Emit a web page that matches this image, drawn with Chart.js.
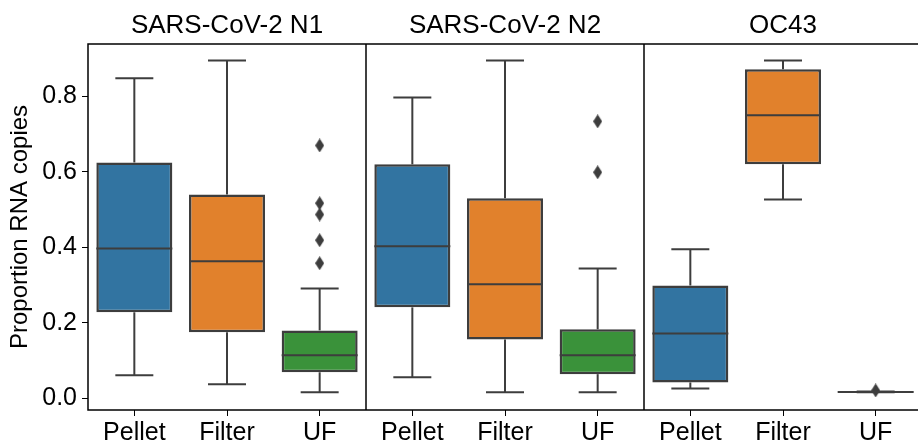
<!DOCTYPE html>
<html>
<head>
<meta charset="utf-8">
<script src="https://cdn.jsdelivr.net/npm/chart.js@4.4.1/dist/chart.umd.min.js"></script>
<style>
  html, body { margin: 0; padding: 0; background: #fff; overflow: hidden; }
  #wrap { width: 928px; height: 444px; }
</style>
</head>
<body>
<div id="wrap"><canvas id="chart"></canvas></div>
<script>
// panels and categories
const panels = ["SARS-CoV-2 N1", "SARS-CoV-2 N2", "OC43"];
const categories = ["Pellet", "Filter", "UF"];
const keys = ["N1 Pellet", "N1 Filter", "N1 UF", "N2 Pellet", "N2 Filter", "N2 UF", "OC43 Pellet", "OC43 Filter", "OC43 UF"];

// box statistics, one entry per key
const whiskerLow  = [0.061, 0.037, 0.016, 0.056, 0.016, 0.016, 0.026, 0.527, 0.016];
const q1          = [0.228, 0.175, 0.069, 0.241, 0.156, 0.064, 0.042, 0.620, 0.016];
const median      = [0.397, 0.363, 0.114, 0.403, 0.302, 0.114, 0.172, 0.750, 0.017];
const q3          = [0.625, 0.540, 0.180, 0.620, 0.530, 0.183, 0.299, 0.872, 0.018];
const whiskerHigh = [0.848, 0.895, 0.291, 0.797, 0.895, 0.344, 0.395, 0.895, 0.018];

// outliers
const outlierKeys   = ["N1 UF", "N1 UF", "N1 UF", "N1 UF", "N1 UF", "N2 UF", "N2 UF", "OC43 UF"];
const outlierValues = [0.670, 0.517, 0.487, 0.419, 0.358, 0.734, 0.599, 0.021];

const yTicks = [0, 0.2, 0.4, 0.6, 0.8];

const palette = ["#3274a1", "#e1812c", "#3a923a"];
const lineColor = "#3d3d3d";
const fontFamily = "'Liberation Sans', Arial, sans-serif";

// thin diamond marker
const diamond = document.createElement("canvas");
diamond.width = 9;
diamond.height = 14;
(function () {
  const c = diamond.getContext("2d");
  c.fillStyle = lineColor;
  c.beginPath();
  c.moveTo(4.5, 0);
  c.lineTo(9, 7);
  c.lineTo(4.5, 14);
  c.lineTo(0, 7);
  c.closePath();
  c.fill();
})();

const boxPlugin = {
  id: "boxParts",
  afterDatasetsDraw(chart) {
    const ctx = chart.ctx;
    const y = chart.scales.y;
    const x = chart.scales.x;
    const area = chart.chartArea;
    const bars = chart.getDatasetMeta(0).data;

    function line(x1, y1, x2, y2) {
      ctx.beginPath();
      ctx.moveTo(x1, y1);
      ctx.lineTo(x2, y2);
      ctx.stroke();
    }

    ctx.save();
    ctx.strokeStyle = lineColor;
    ctx.lineWidth = 2;
    bars.forEach((bar, i) => {
      const cx = bar.x;
      const half = bar.width / 2;
      const yHi = y.getPixelForValue(whiskerHigh[i]);
      const yLo = y.getPixelForValue(whiskerLow[i]);
      const yQ1 = y.getPixelForValue(q1[i]);
      const yQ3 = y.getPixelForValue(q3[i]);
      const yMed = y.getPixelForValue(median[i]);
      line(cx, yQ3, cx, yHi);
      line(cx, yQ1, cx, yLo);
      line(cx - half / 2, yHi, cx + half / 2, yHi);
      line(cx - half / 2, yLo, cx + half / 2, yLo);
      line(cx - half, yMed, cx + half, yMed);
    });
    ctx.restore();

    // frame and panel separators
    ctx.save();
    ctx.strokeStyle = "#000";
    ctx.lineWidth = 1.5;
    ctx.strokeRect(area.left, area.top, area.right - area.left, area.bottom - area.top);
    for (let p = 1; p < panels.length; p++) {
      const sx = (x.getPixelForValue(p * 3 - 1) + x.getPixelForValue(p * 3)) / 2;
      line(sx, area.top, sx, area.bottom);
    }

    // panel titles
    ctx.fillStyle = "#000";
    ctx.font = "26px " + fontFamily;
    ctx.textAlign = "center";
    ctx.textBaseline = "alphabetic";
    panels.forEach((t, p) => {
      ctx.fillText(t, x.getPixelForValue(p * 3 + 1), 33);
    });
    ctx.restore();
  }
};

new Chart(document.getElementById("chart"), {
  type: "bar",
  data: {
    labels: keys,
    datasets: [
      {
        data: keys.map((k, i) => [q1[i], q3[i]]),
        backgroundColor: keys.map((k, i) => palette[i % 3]),
        borderColor: lineColor,
        borderWidth: 2.5,
        borderSkipped: false,
        barPercentage: 0.82,
        categoryPercentage: 1,
        order: 2
      },
      {
        type: "scatter",
        data: outlierKeys.map((k, i) => ({ x: k, y: outlierValues[i] })),
        pointStyle: diamond,
        pointRadius: 5,
        order: 1
      }
    ]
  },
  options: {
    responsive: true,
    maintainAspectRatio: false,
    animation: false,
    layout: { padding: { top: 44, right: 0, left: 0, bottom: 0 } },
    plugins: {
      legend: { display: false },
      tooltip: { enabled: false }
    },
    scales: {
      x: {
        type: "category",
        offset: true,
        grid: {
          offset: false,
          drawOnChartArea: false,
          drawTicks: true,
          tickLength: 6,
          color: "#000"
        },
        border: { display: false },
        ticks: {
          color: "#000",
          padding: 2,
          maxRotation: 0,
          autoSkip: false,
          font: { family: fontFamily, size: 25 },
          callback: (v, i) => categories[i % 3]
        },
        afterFit: (s) => { s.height = 34; }
      },
      y: {
        min: -0.031,
        max: 0.939,
        grid: {
          drawOnChartArea: false,
          drawTicks: true,
          tickLength: 6,
          color: "#000"
        },
        border: { display: false },
        afterBuildTicks: (s) => { s.ticks = yTicks.map(v => ({ value: v })); },
        ticks: {
          color: "#000",
          padding: 5,
          font: { family: fontFamily, size: 25 },
          callback: (v) => Number(v).toFixed(1)
        },
        title: {
          display: true,
          text: "Proportion RNA copies",
          color: "#000",
          padding: { top: 6, bottom: 0 },
          font: { family: fontFamily, size: 24 }
        },
        afterFit: (s) => { s.width = 88; }
      }
    }
  },
  plugins: [boxPlugin]
});
</script>
</body>
</html>
